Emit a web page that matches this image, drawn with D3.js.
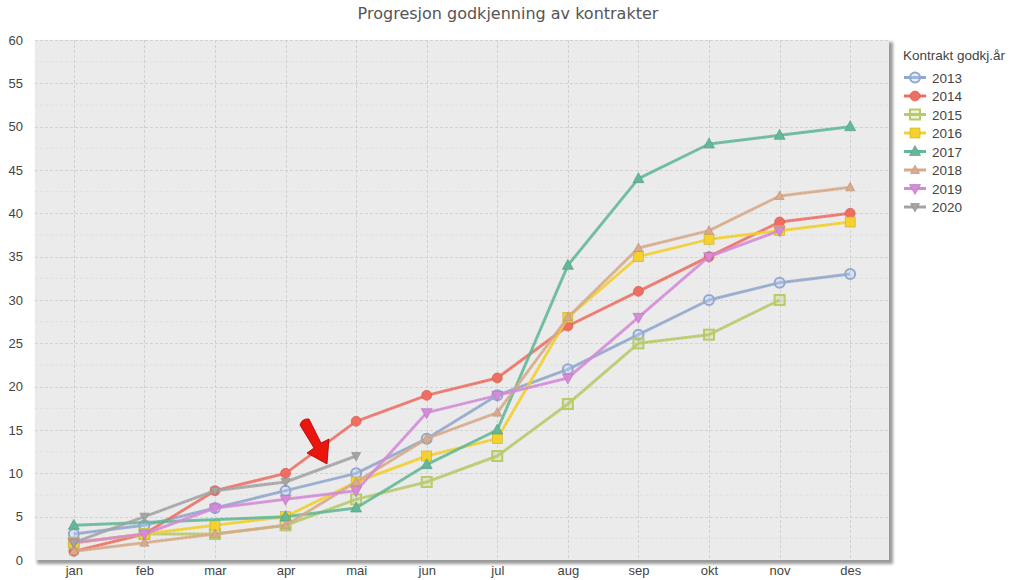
<!DOCTYPE html>
<html>
<head>
<meta charset="utf-8">
<script src="https://cdn.jsdelivr.net/npm/d3@7/dist/d3.min.js"></script>
<style>
  html, body { margin: 0; padding: 0; background: #ffffff; }
  svg { display: block; }
</style>
</head>
<body>
<script>
// ---------- data ----------
const months = ["jan","feb","mar","apr","mai","jun","jul","aug","sep","okt","nov","des"];
const years = ["2013","2014","2015","2016","2017","2018","2019","2020"];
const yTicks = [0,5,10,15,20,25,30,35,40,45,50,55,60];

const v2013 = [3, 4, 6, 8, 10, 14, 19, 22, 26, 30, 32, 33];
const v2014 = [1, 3, 8, 10, 16, 19, 21, 27, 31, 35, 39, 40];
const v2015 = [2, 3, 3, 4, 7, 9, 12, 18, 25, 26, 30, null];
const v2016 = [2, 3, 4, 5, 9, 12, 14, 28, 35, 37, 38, 39];
const v2017 = [4, null, null, 5, 6, 11, 15, 34, 44, 48, 49, 50];
const v2018 = [1, 2, 3, 4, 9, 14, 17, 28, 36, 38, 42, 43];
const v2019 = [2, 3, 6, 7, 8, 17, 19, 21, 28, 35, 38, null];
const v2020 = [2, 5, 8, 9, 12, null, null, null, null, null, null, null];
const seriesValues = [v2013, v2014, v2015, v2016, v2017, v2018, v2019, v2020];

const colors = ["#93a8cd","#f06e61","#b8cb6a","#f4d12e","#62b897","#d9ab8b","#d68bd9","#a4a4a4"];
const shapes = ["circleOpen","circle","squareOpen","square","triUp","triUpSmall","triDown","triDownSmall"];

const title = "Progresjon godkjenning av kontrakter";
const legendTitle = "Kontrakt godkj.år";

// ---------- layout ----------
const W = 1024, H = 580;
const plot = {left: 35, top: 40, right: 889, bottom: 560};

const svg = d3.select("body").append("svg").attr("width", W).attr("height", H);
const defs = svg.append("defs");
const f = defs.append("filter").attr("id","shadow").attr("x","-5%").attr("y","-5%").attr("width","110%").attr("height","110%");
f.append("feGaussianBlur").attr("stdDeviation", 1.5);

const x = d3.scalePoint().domain(months).range([plot.left, plot.right]).padding(0.55);
const y = d3.scaleLinear().domain([0, 60]).range([plot.bottom, plot.top]);

// title
svg.append("text").attr("x", 508).attr("y", 19).attr("text-anchor","middle")
  .attr("font-family","DejaVu Sans, Verdana, sans-serif").attr("font-size", 16)
  .attr("fill","#555").text(title);

// shadow + plot background
svg.append("rect").attr("x", plot.left + 2).attr("y", plot.top + 2)
  .attr("width", plot.right - plot.left + 2).attr("height", plot.bottom - plot.top + 2)
  .attr("fill","#9a9a9a").attr("filter","url(#shadow)");
svg.append("rect").attr("x", plot.left).attr("y", plot.top)
  .attr("width", plot.right - plot.left).attr("height", plot.bottom - plot.top)
  .attr("fill","#ebebeb");

// minor grid
const minor = d3.range(2.5, 60, 5);
svg.append("g").selectAll("line").data(minor).join("line")
  .attr("x1", plot.left).attr("x2", plot.right)
  .attr("y1", d => y(d)).attr("y2", d => y(d))
  .attr("stroke","#e0e0e0").attr("stroke-width",1).attr("stroke-dasharray","3,2");
// major grid
svg.append("g").selectAll("line").data(yTicks.filter(d => d > 0)).join("line")
  .attr("x1", plot.left).attr("x2", plot.right)
  .attr("y1", d => Math.round(y(d)) + 0.5).attr("y2", d => Math.round(y(d)) + 0.5)
  .attr("stroke","#d2d2d2").attr("stroke-width",1).attr("stroke-dasharray","3,2");
svg.append("g").selectAll("line").data(months).join("line")
  .attr("x1", d => Math.round(x(d)) + 0.5).attr("x2", d => Math.round(x(d)) + 0.5)
  .attr("y1", plot.top).attr("y2", plot.bottom)
  .attr("stroke","#d0d0d0").attr("stroke-width",1).attr("stroke-dasharray","3,2");

// axes
const yAxis = svg.append("g").attr("transform", `translate(${plot.left},0)`)
  .call(d3.axisLeft(y).tickValues(yTicks).tickSize(0).tickPadding(12));
yAxis.select(".domain").remove();
yAxis.selectAll("text").attr("font-family","Liberation Sans, Arial, sans-serif")
  .attr("font-size", 13).attr("fill","#444");

const xAxis = svg.append("g").attr("transform", `translate(0,${plot.bottom})`)
  .call(d3.axisBottom(x).tickSize(0).tickPadding(6));
xAxis.select(".domain").remove();
xAxis.selectAll("text").attr("font-family","Liberation Sans, Arial, sans-serif")
  .attr("font-size", 13).attr("fill","#444");

// symbols
function drawSymbol(g, shape, color, cx, cy) {
  const dark = d3.color(color).darker(0.5).formatHex();
  const s = g.append("g").attr("transform", `translate(${cx},${cy})`);
  switch (shape) {
    case "circleOpen":
      s.append("circle").attr("r", 5).attr("fill", d3.color(color).brighter(0.6).formatHex())
        .attr("fill-opacity",0.35).attr("stroke", color).attr("stroke-width", 2);
      break;
    case "circle":
      s.append("circle").attr("r", 5).attr("fill", color).attr("stroke", dark).attr("stroke-width", 0.6);
      break;
    case "squareOpen":
      s.append("rect").attr("x",-5).attr("y",-5).attr("width",10).attr("height",10)
        .attr("fill", color).attr("fill-opacity",0.25).attr("stroke", color).attr("stroke-width",2);
      break;
    case "square":
      s.append("rect").attr("x",-5).attr("y",-5).attr("width",10).attr("height",10)
        .attr("fill", color).attr("stroke", dark).attr("stroke-width",0.6);
      break;
    case "triUp":
      s.append("path").attr("d","M0,-6L5.5,4L-5.5,4Z").attr("fill", color).attr("stroke", dark).attr("stroke-width",0.6);
      break;
    case "triUpSmall":
      s.append("path").attr("d","M0,-5L4.5,3.5L-4.5,3.5Z").attr("fill", color).attr("stroke", dark).attr("stroke-width",0.6);
      break;
    case "triDown":
      s.append("path").attr("d","M0,6L5.5,-4L-5.5,-4Z").attr("fill", color).attr("stroke", dark).attr("stroke-width",0.6);
      break;
    case "triDownSmall":
      s.append("path").attr("d","M0,5L4.5,-3.5L-4.5,-3.5Z").attr("fill", color).attr("stroke", dark).attr("stroke-width",0.6);
      break;
  }
}

// series
const line = d3.line().x(d => x(d.m)).y(d => y(d.v));
years.forEach((yr, i) => {
  const pts = months.map((m, j) => ({m, v: seriesValues[i][j]})).filter(d => d.v !== null);
  const g = svg.append("g");
  g.append("path").datum(pts).attr("d", line).attr("fill","none")
    .attr("stroke", colors[i]).attr("stroke-width", 3).attr("stroke-opacity", 0.85)
    .attr("stroke-linejoin","round");
  g.append("path").datum(pts).attr("d", line).attr("fill","none")
    .attr("stroke", d3.color(colors[i]).darker(0.4).formatHex()).attr("stroke-width", 0.8)
    .attr("stroke-dasharray","2,2").attr("stroke-opacity", 0.5);
  pts.forEach(p => drawSymbol(g, shapes[i], colors[i], x(p.m), y(p.v)));
});

// red arrow annotation
svg.append("path")
  .attr("d","M300,425 Q302,418 309,419 L321,443 L329,439 L327,464 L307,453 L314,448 Z")
  .attr("fill","#e8160c").attr("stroke","#b00000").attr("stroke-width",0.8)
  .attr("stroke-linejoin","round");

// legend
const lg = svg.append("g");
lg.append("text").attr("x", 903).attr("y", 60)
  .attr("font-family","Liberation Sans, Arial, sans-serif").attr("font-size", 13.5)
  .attr("fill","#444").text(legendTitle);
years.forEach((yr, i) => {
  const cy = 77.5 + i * 18.5;
  lg.append("line").attr("x1", 904).attr("x2", 926).attr("y1", cy).attr("y2", cy)
    .attr("stroke", colors[i]).attr("stroke-width", 3);
  drawSymbol(lg, shapes[i], colors[i], 915, cy);
  lg.append("text").attr("x", 932).attr("y", cy + 5)
    .attr("font-family","Liberation Sans, Arial, sans-serif").attr("font-size", 13.5)
    .attr("fill","#444").text(yr);
});
</script>
</body>
</html>
